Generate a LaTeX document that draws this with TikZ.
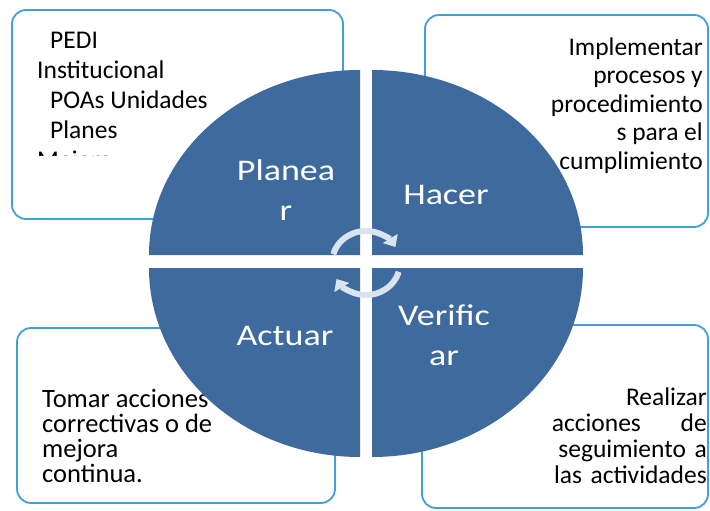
\documentclass[tikz,border=0pt]{standalone}
\usepackage{fontspec}
\setmainfont{Carlito}
\newfontfamily\circfont[FakeStretch=1.2]{Carlito}
\usetikzlibrary{arrows.meta}

\definecolor{discblue}{RGB}{63,106,157}
\definecolor{framblue}{RGB}{65,160,218}
\definecolor{cyclight}{RGB}{218,228,240}

\begin{document}
\begin{tikzpicture}[x=1pt, y=-1pt,
  frame/.style={draw=framblue, line width=1.8pt, rounded corners=14pt},
  boxtext/.style={inner sep=0pt, font=\fontsize{25.5}{#1}\selectfont},
  quarter/.style={fill=discblue},
  label/.style={inner sep=0pt, text=white, align=center, font=\circfont\fontsize{30}{40}\selectfont},
  cyc/.style={draw=cyclight, line width=6pt, -{Triangle[length=10pt,width=17pt]}}]

  \useasboundingbox (0,0) rectangle (710,511);

  % frames behind the disc
  \draw[frame] (12,10) rectangle (343,219);
  \draw[frame] (425,15) rectangle (708,227);
  \draw[frame] (17,328) rectangle (335,503);
  \draw[frame] (422,325) rectangle (708,508);

  % box texts
  \begin{scope}
    \clip (12,10) rectangle (343,155);
    \node[boxtext=30, anchor=base west, align=left] (pedi) at (37,168)
      {\hspace*{13pt}PEDI\\Institucional\\\hspace*{13pt}POAs Unidades\\\hspace*{13pt}Planes\\Mejora};
  \end{scope}
  \node[boxtext=28.5, anchor=base east, align=right] (impl) at (703,169)
    {Implementar\\procesos y\\procedimiento\\s para el\\cumplimiento};
  \node[boxtext=25, anchor=base west, align=left, font=\fontsize{26.5}{25}\selectfont] (tomar) at (42,482)
    {Tomar acciones\\correctivas o de\\mejora\\continua.};
  \node[boxtext=26, anchor=base east, align=right, text width=155pt] (realizar) at (707,405)
    {Realizar\\acciones\hfill de\\seguimiento a\\las actividades};

  % the disc in four quarters
  \fill[quarter] (360,255) -- ++(-211,0) arc[start angle=180, end angle=270, x radius=211, y radius=185] -- cycle;
  \fill[quarter] (372,255) -- ++(0,-185) arc[start angle=270, end angle=360, x radius=211, y radius=185] -- cycle;
  \fill[quarter] (372,268) -- ++(211,0) arc[start angle=0, end angle=90, x radius=211, y radius=189] -- cycle;
  \fill[quarter] (360,268) -- ++(0,189) arc[start angle=90, end angle=180, x radius=211, y radius=189] -- cycle;

  \node[label, anchor=base] (planear) at (286,220) {Planea\\r};
  \node[label, anchor=base] (hacer) at (446,204) {Hacer};
  \node[label, anchor=base] (actuar) at (285,345) {Actuar};
  \node[label, anchor=base] (verificar) at (444,365) {Verific\\ar};

  % cycle arrows
  \coordinate (hub) at (366,263);
  \draw[cyc] ([shift={(196:34 and 32)}]hub) arc[start angle=196, end angle=330, x radius=34, y radius=32];
  \draw[cyc] ([shift={(16:34 and 32)}]hub) arc[start angle=16, end angle=150, x radius=34, y radius=32];
\end{tikzpicture}
\end{document}
